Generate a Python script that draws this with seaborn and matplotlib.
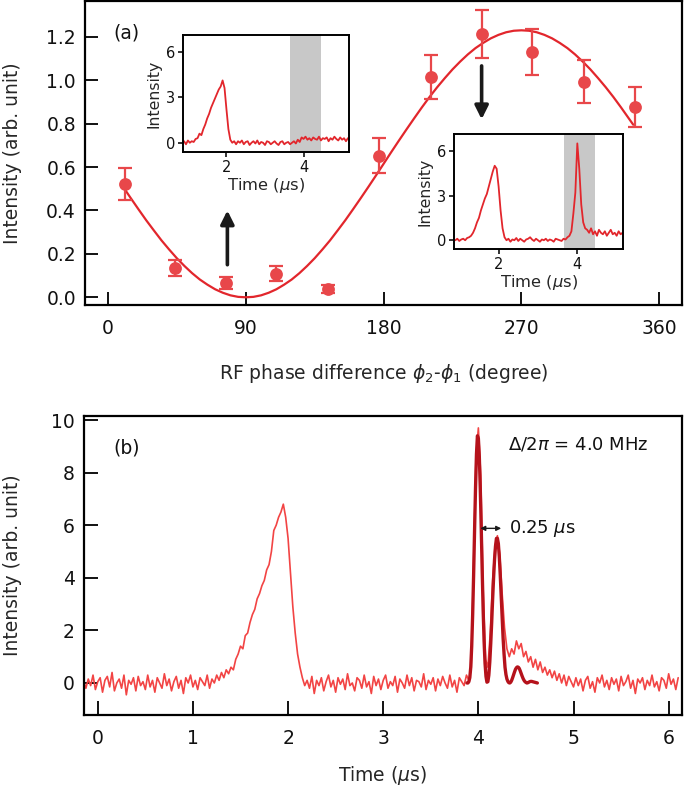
import numpy as np
import pandas as pd
import matplotlib
matplotlib.use("Agg")
import matplotlib.pyplot as plt
import seaborn as sns

# ---- (a) intensity vs RF phase difference ----
phase = [11, 44, 77, 110, 144, 177, 211, 244, 277, 311, 344]
intensity = [0.522, 0.135, 0.066, 0.109, 0.038, 0.652, 1.014, 1.214, 1.129, 0.994, 0.875]
intensity_err = [0.073, 0.036, 0.026, 0.035, 0.018, 0.080, 0.100, 0.110, 0.107, 0.101, 0.092]

# fitted curve, every 5 degrees
fit_phase = list(range(10, 345, 5)) + [343]
fit_intensity = [0.508, 0.456, 0.405, 0.355, 0.308, 0.262, 0.220, 0.180, 0.144, 0.111,
                 0.082, 0.058, 0.037, 0.021, 0.009, 0.002, 0.000, 0.002, 0.009, 0.021,
                 0.037, 0.058, 0.082, 0.111, 0.144, 0.180, 0.220, 0.262, 0.308, 0.355,
                 0.405, 0.456, 0.508, 0.561, 0.615, 0.669, 0.722, 0.774, 0.825, 0.875,
                 0.923, 0.968, 1.010, 1.050, 1.086, 1.119, 1.148, 1.172, 1.193, 1.209,
                 1.221, 1.228, 1.230, 1.228, 1.221, 1.209, 1.193, 1.172, 1.148, 1.119,
                 1.086, 1.050, 1.010, 0.968, 0.923, 0.875, 0.825, 0.795]

# ---- insets: time traces, sampled every 0.05 us from 0.9 us ----
inset_t0, inset_dt = 0.9, 0.05
inset_low = [0.1, -0.1, 0.15, 0.0, 0.1, 0.05, 0.25, 0.3, 0.6, 0.5,
             0.9, 1.2, 1.6, 1.9, 2.3, 2.6, 2.9, 3.2, 3.5, 3.7,
             4.1, 3.6, 2.2, 0.9, 0.2, 0.0, 0.1,
             -0.1, 0.1, 0.0, 0.15, -0.1, 0.05, 0.1, -0.15, 0.0, 0.1,
             -0.05, 0.15, -0.1, 0.05, 0.0, -0.15, 0.1, 0.05, -0.1, 0.0,
             0.1, -0.05, -0.15, 0.05, 0.1, -0.1, 0.0, 0.05, -0.1,
             0.0, 0.1, -0.05, 0.2, 0.05, 0.35, 0.25, 0.4, 0.2, 0.3,
             0.15, 0.35, 0.25, 0.2, 0.4, 0.15, 0.3, 0.25, 0.35, 0.1,
             0.3, 0.2, 0.4, 0.25, 0.15, 0.35, 0.2, 0.3, 0.1, 0.3]
inset_high = [0.0, 0.1, -0.05, 0.05, 0.1, 0.0, 0.15, 0.2, 0.3, 0.5,
              0.8, 1.2, 1.5, 2.0, 2.4, 2.8, 3.1, 3.6, 4.1, 4.6,
              5.0, 4.8, 3.6, 2.0, 0.8, 0.2, 0.0,
              0.1, -0.1, 0.05, 0.0, 0.15, -0.05, 0.1, 0.0, -0.1, 0.05,
              0.1, 0.2, 0.05, -0.05, 0.1, 0.0, -0.1, 0.05, 0.0, 0.1,
              -0.05, 0.05, 0.0, -0.1, 0.1, 0.05, 0.0, -0.05, 0.1, 0.05, 0.2,
              0.3, 0.6, 1.8, 3.2, 6.5, 4.8, 2.4, 1.2, 0.8,
              0.7, 0.5, 0.8, 0.4, 0.6, 0.3, 0.7, 0.5, 0.4, 0.6,
              0.3, 0.5, 0.7, 0.4, 0.5, 0.3, 0.6, 0.4, 0.5]
gate = (3.66, 4.44)

# ---- (b) measured trace, every 0.025 us from -0.15 us ----
trace_t0, trace_dt = -0.15, 0.025
trace_meas = [
    0.1, -0.2, 0.15, -0.1, 0.3, -0.25, 0.05, 0.2, -0.35, 0.1,
    0.25, -0.15, 0.4, -0.3, 0.0, 0.15, -0.2, 0.3, -0.45, 0.1,
    -0.05, 0.2, -0.3, 0.25, -0.1, 0.05, -0.25, 0.3, -0.15, 0.1,
    -0.35, 0.2, 0.0, -0.2, 0.35, -0.1, 0.15, -0.3, 0.05, 0.25,
    -0.2, 0.1, -0.4, 0.2, 0.0, 0.3, -0.15, 0.1, -0.25, 0.2,
    0.05, -0.1, 0.3, -0.2, 0.15,
    0.0, 0.3, 0.1, 0.4, 0.2, 0.5, 0.35,
    0.6, 0.5, 0.9, 1.1, 1.4, 1.3, 1.8, 1.9, 2.3, 2.6,
    2.8, 3.2, 3.4, 3.7, 3.9, 4.3, 4.5, 5.0, 5.8, 6.0,
    6.3, 6.5, 6.8,
    6.3, 5.5, 4.2, 2.9, 1.9, 1.1, 0.6, 0.2, -0.1, 0.1,
    -0.2, 0.25, -0.4, 0.1, -0.1, 0.2, -0.3, 0.05, 0.3, -0.15,
    0.1, -0.35, 0.2, -0.05, 0.15, -0.25, 0.35, -0.1, 0.0, -0.3,
    0.2, 0.1, -0.2, 0.3, -0.15, 0.05, -0.4, 0.25, -0.1, 0.15,
    -0.25, 0.1, 0.3, -0.2, 0.05, -0.1, 0.25, -0.35, 0.15, 0.0,
    -0.2, 0.3, -0.1, 0.2, -0.3, 0.1, 0.05, -0.15, 0.35, -0.25,
    0.1, -0.05, 0.2, -0.3, 0.15, -0.1, 0.25, 0.0, -0.2, 0.3,
    -0.15, 0.1, -0.35, 0.2, 0.05, -0.1, 0.3, 0.1,
    0.6, 4.6, 8.6, 9.7, 7.9, 3.6, 0.9, 0.6, 1.9, 3.9,
    5.2, 5.6, 4.9, 3.4, 2.1, 1.3, 1.0, 1.3, 1.1, 1.6,
    1.3, 1.5, 1.0, 1.2,
    0.8, 1.0, 0.6, 0.9, 0.5, 0.8, 0.4, 0.6, 0.3, 0.5,
    0.2, 0.45, 0.1, 0.35, 0.0, 0.3, -0.1, 0.25, 0.05, -0.15,
    0.2, -0.1, 0.15, -0.3, 0.1, 0.25, -0.2, 0.05, -0.35, 0.2,
    0.0, 0.3, -0.15, 0.1, -0.25, 0.2, -0.05, 0.15, -0.3, 0.25,
    -0.1, 0.05, 0.3, -0.2, 0.1, -0.4, 0.15, 0.0, 0.2, -0.25,
    0.1, -0.1, 0.3, -0.15, 0.05, -0.3, 0.2, 0.1, -0.2, 0.35,
    -0.05, 0.15, -0.25, 0.2]

# calculated curve, every 0.01 us from 3.88 us
calc_t0, calc_dt = 3.88, 0.01
trace_calc = [
    0.0, 0.0, 0.05, 0.2, 0.6, 1.4, 2.6, 4.1, 5.8, 7.4,
    8.7, 9.4, 9.3, 8.6, 7.4, 5.9, 4.3, 2.8, 1.6, 0.75,
    0.25, 0.03, 0.05, 0.3, 0.8, 1.5, 2.3, 3.2, 4.0, 4.7,
    5.2, 5.5, 5.5, 5.3, 4.8, 4.1, 3.3, 2.5, 1.7, 1.1,
    0.6, 0.32, 0.15, 0.06, 0.01, 0.0, 0.03, 0.1, 0.2, 0.31,
    0.42, 0.52, 0.58, 0.61, 0.6, 0.55, 0.46, 0.36, 0.26, 0.17,
    0.1, 0.05, 0.02, 0.0, 0.01, 0.03, 0.05, 0.06, 0.06, 0.05,
    0.04, 0.03, 0.02, 0.01, 0.0]


def sampled(t0, dt, values):
    t = np.round(t0 + dt * np.arange(len(values)), 4)
    return pd.DataFrame({"t": t, "v": values})


sns.set_theme(style="ticks")
plt.rcParams["font.family"] = ["DejaVu Sans"]
plt.rcParams["mathtext.fontset"] = "dejavusans"
plt.rcParams["axes.linewidth"] = 1.6
plt.rcParams["axes.edgecolor"] = "black"
plt.rcParams["text.color"] = "#111111"

red_pt = "#e8474a"
red_fit = "#e2262c"
red_trace = "#f24444"
red_calc = "#b5121b"
fs = 13.5

fig = plt.figure(figsize=(6.85, 7.91), dpi=100)

# ---------------- panel (a) ----------------
ax1 = fig.add_axes([0.124, 0.614, 0.872, 0.385])
sns.lineplot(x=fit_phase, y=fit_intensity, ax=ax1, color=red_fit, lw=1.6, estimator=None)
ax1.errorbar(phase, intensity, yerr=intensity_err, fmt="none", ecolor=red_pt,
             elinewidth=1.6, capsize=5, capthick=1.6, zorder=3)
sns.scatterplot(x=phase, y=intensity, ax=ax1, color=red_pt, s=85, linewidth=0, zorder=4)
ax1.set_xlim(-15, 375)
ax1.set_ylim(-0.037, 1.366)
ax1.set_xticks([0, 90, 180, 270, 360])
ax1.set_yticks([0.0, 0.2, 0.4, 0.6, 0.8, 1.0, 1.2])
ax1.set_yticklabels([f"{v:.1f}" for v in ax1.get_yticks()])
ax1.tick_params(direction="in", length=9.5, width=1.4, labelsize=fs, pad=6.5, colors="#111111")
ax1.tick_params(axis="x", pad=10)
ax1.set_xlabel(r"RF phase difference $\phi_2$-$\phi_1$ (degree)", fontsize=fs)
ax1.set_ylabel("Intensity (arb. unit)", fontsize=fs)
ax1.xaxis.set_label_coords(0.5, -0.185)
ax1.yaxis.set_label_coords(-0.106, 0.5)
ax1.text(0.07, 0.895, "(a)", transform=ax1.transAxes, fontsize=fs, ha="center", va="center")
ax1.annotate("", xy=(78, 0.40), xytext=(78, 0.15),
             arrowprops=dict(arrowstyle="-|>", color="#1a1a1a", lw=2.6,
                             mutation_scale=20, shrinkA=0, shrinkB=0))
ax1.annotate("", xy=(244, 0.82), xytext=(244, 1.066),
             arrowprops=dict(arrowstyle="-|>", color="#1a1a1a", lw=2.6,
                             mutation_scale=20, shrinkA=0, shrinkB=0))

# insets
for rect, values in [([0.267, 0.808, 0.242, 0.148], inset_low),
                     ([0.663, 0.685, 0.247, 0.145], inset_high)]:
    axi = fig.add_axes(rect)
    df_i = sampled(inset_t0, inset_dt, values)
    axi.axvspan(gate[0], gate[1], color="#c8c8c8", lw=0, zorder=0)
    sns.lineplot(data=df_i, x="t", y="v", ax=axi, color=red_fit, lw=1.3, estimator=None)
    axi.set_xlim(0.87, 5.17)
    axi.set_ylim(-0.6, 7.1)
    axi.set_xticks([2, 4])
    axi.set_yticks([0, 3, 6])
    axi.tick_params(direction="out", length=3.5, width=1.2, labelsize=10.5, pad=2,
                    colors="#111111")
    axi.set_xlabel(r"Time ($\mu$s)", fontsize=11.8, labelpad=1)
    axi.set_ylabel("Intensity", fontsize=11.3, labelpad=3)
    axi.set_facecolor("white")
    for s in axi.spines.values():
        s.set_linewidth(1.4)

# ---------------- panel (b) ----------------
ax2 = fig.add_axes([0.1226, 0.096, 0.873, 0.378])
df_meas = sampled(trace_t0, trace_dt, trace_meas)
df_calc = sampled(calc_t0, calc_dt, trace_calc)
sns.lineplot(data=df_meas, x="t", y="v", ax=ax2, color=red_trace, lw=1.2, estimator=None)
sns.lineplot(data=df_calc, x="t", y="v", ax=ax2, color=red_calc, lw=2.4, estimator=None)
ax2.set_xlim(-0.145, 6.14)
ax2.set_ylim(-1.22, 10.15)
ax2.set_xticks(range(0, 7))
ax2.set_yticks([0, 2, 4, 6, 8, 10])
ax2.tick_params(direction="in", length=10, width=1.4, labelsize=fs, pad=6.5, colors="#111111")
ax2.tick_params(axis="x", pad=10)
ax2.set_xlabel(r"Time ($\mu$s)", fontsize=fs)
ax2.set_ylabel("Intensity (arb. unit)", fontsize=fs)
ax2.xaxis.set_label_coords(0.5, -0.165)
ax2.yaxis.set_label_coords(-0.104, 0.5)
ax2.text(0.072, 0.893, "(b)", transform=ax2.transAxes, fontsize=fs, ha="center", va="center")
ax2.text(4.31, 9.05, r"$\Delta/2\pi$ = 4.0 MHz", fontsize=13, ha="left", va="center")
ax2.text(4.32, 5.88, r"0.25 $\mu$s", fontsize=13, ha="left", va="center")
ax2.annotate("", xy=(4.24, 5.88), xytext=(4.02, 5.88),
             arrowprops=dict(arrowstyle="<|-|>", color="#1a1a1a", lw=1.0,
                             mutation_scale=7, shrinkA=0, shrinkB=0))

fig.savefig("out.png", dpi=100)
